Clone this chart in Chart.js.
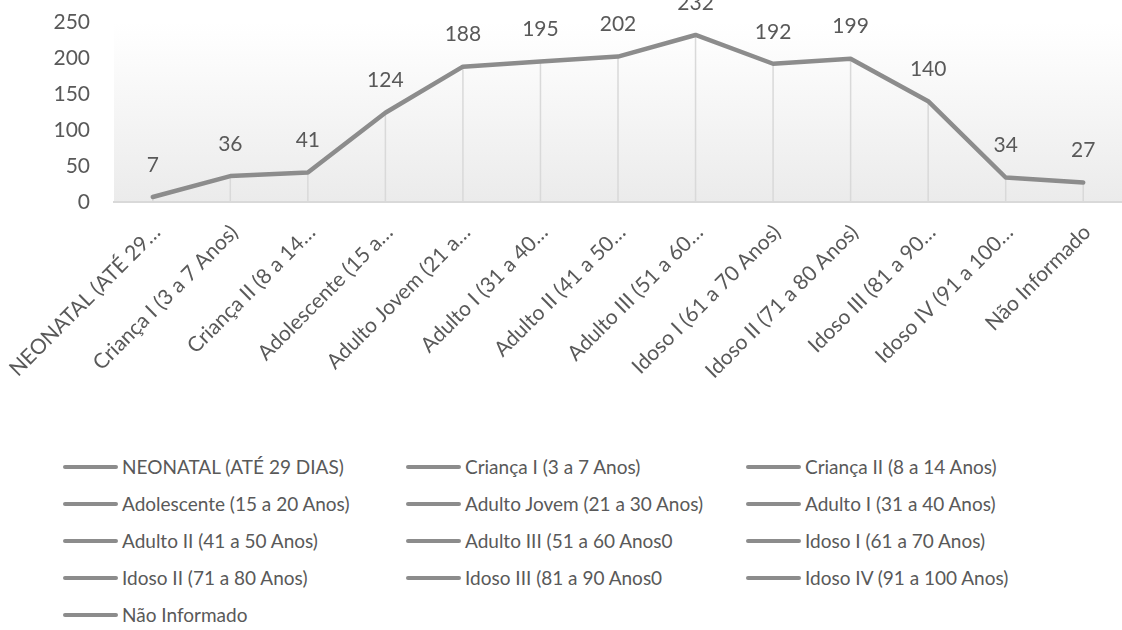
<!DOCTYPE html>
<html>
<head>
<meta charset="utf-8">
<script src="https://cdn.jsdelivr.net/npm/chart.js@4.4.1/dist/chart.umd.min.js"></script>
<style>
  body { margin: 0; background: #fff; width: 1122px; height: 630px; overflow: hidden; font-family: Lato, sans-serif; }
  #wrap { position: absolute; left: 0; top: 0; width: 1122px; height: 440px; }
  #legend { position: absolute; left: 63px; top: 448px; display: grid; grid-template-columns: 343px 340px 340px; }
  .item { height: 37px; display: flex; align-items: center; font-size: 19px; color: #595959; white-space: nowrap; }
  .item i { display: inline-block; width: 55px; height: 4px; background: #8c8c8c; border-radius: 2px; margin-right: 4px; }
</style>
</head>
<body>
<div id="wrap"><canvas id="faixas"></canvas></div>
<div id="legend"></div>
<script>
// faixas etarias
const categories = [
    'NEONATAL (ATÉ 29 DIAS)', 'Criança I (3 a 7 Anos)', 'Criança II (8 a 14 Anos)',
    'Adolescente (15 a 20 Anos)', 'Adulto Jovem (21 a 30 Anos)', 'Adulto I (31 a 40 Anos)',
    'Adulto II (41 a 50 Anos)', 'Adulto III (51 a 60 Anos0', 'Idoso I (61 a 70 Anos)',
    'Idoso II (71 a 80 Anos)', 'Idoso III (81 a 90 Anos0', 'Idoso IV (91 a 100 Anos)',
    'Não Informado'
];
// rotulos curtos do eixo x
const tickLabels = [
    'NEONATAL (ATÉ 29…', 'Criança I (3 a 7 Anos)', 'Criança II (8 a 14…',
    'Adolescente (15 a…', 'Adulto Jovem (21 a…', 'Adulto I (31 a 40…',
    'Adulto II (41 a 50…', 'Adulto III (51 a 60…', 'Idoso I (61 a 70 Anos)',
    'Idoso II (71 a 80 Anos)', 'Idoso III (81 a 90…', 'Idoso IV (91 a 100…',
    'Não Informado'
];
const totals = [7, 36, 41, 124, 188, 195, 202, 232, 192, 199, 140, 34, 27];
const yTicks = [0, 50, 100, 150, 200, 250];

const lineColor = '#8c8c8c';
const textColor = '#595959';
const fontFamily = 'Lato, sans-serif';

// fundo em degrade da area do grafico
const plotBackground = {
    id: 'plotBackground',
    beforeDraw(chart) {
        const { ctx, chartArea: a } = chart;
        const g = ctx.createLinearGradient(0, a.top, 0, a.bottom);
        g.addColorStop(0, '#ffffff');
        g.addColorStop(0.12, '#fdfdfd');
        g.addColorStop(1, '#ebebeb');
        ctx.save();
        ctx.fillStyle = g;
        ctx.fillRect(a.left, a.top, a.right - a.left, a.bottom - a.top);
        ctx.restore();
    }
};

// linhas verticais de cada ponto ate o eixo
const dropLines = {
    id: 'dropLines',
    beforeDatasetsDraw(chart) {
        const { ctx, scales } = chart;
        const meta = chart.getDatasetMeta(0);
        const base = scales.y.getPixelForValue(0);
        ctx.save();
        ctx.strokeStyle = '#d9d9d9';
        ctx.lineWidth = 1.5;
        meta.data.forEach(p => {
            ctx.beginPath();
            ctx.moveTo(p.x, p.y);
            ctx.lineTo(p.x, base);
            ctx.stroke();
        });
        ctx.restore();
    }
};

// valores acima dos pontos
const valueLabels = {
    id: 'valueLabels',
    afterDatasetsDraw(chart) {
        const { ctx } = chart;
        const meta = chart.getDatasetMeta(0);
        ctx.save();
        ctx.font = '21px ' + fontFamily;
        ctx.fillStyle = textColor;
        ctx.textAlign = 'center';
        ctx.textBaseline = 'middle';
        meta.data.forEach((p, i) => {
            ctx.fillText(String(totals[i]), p.x, p.y - 32);
        });
        ctx.restore();
    }
};

new Chart(document.getElementById('faixas'), {
    type: 'line',
    data: {
        labels: tickLabels,
        datasets: [{
            data: totals,
            borderColor: lineColor,
            borderWidth: 4.5,
            borderJoinStyle: 'round',
            borderCapStyle: 'round',
            pointRadius: 0,
            tension: 0
        }]
    },
    options: {
        responsive: true,
        maintainAspectRatio: false,
        animation: false,
        layout: { padding: { top: 22, left: 0, right: 0, bottom: 0 } },
        plugins: { legend: { display: false }, tooltip: { enabled: false } },
        scales: {
            x: {
                offset: true,
                grid: { display: false },
                border: { color: '#d9d9d9', width: 2 },
                ticks: {
                    color: textColor,
                    font: { family: fontFamily, size: 21 },
                    minRotation: 45,
                    maxRotation: 45,
                    autoSkip: false,
                    labelOffset: 4,
                    padding: 10
                },
                afterFit(scale) {
                    scale.height = 238;
                    scale.paddingLeft = 0;
                    scale.paddingRight = 0;
                }
            },
            y: {
                min: 0,
                max: 250,
                afterBuildTicks(scale) { scale.ticks = yTicks.map(v => ({ value: v })); },
                grid: { display: false, drawTicks: false },
                border: { display: false },
                ticks: {
                    color: textColor,
                    font: { family: fontFamily, size: 21 },
                    padding: 24
                },
                afterFit(scale) {
                    scale.width = 114;
                    scale.paddingTop = 0;
                    scale.paddingBottom = 0;
                }
            }
        }
    },
    plugins: [plotBackground, dropLines, valueLabels]
});

// legenda em tres colunas
const legend = document.getElementById('legend');
categories.forEach(name => {
    const item = document.createElement('div');
    item.className = 'item';
    item.innerHTML = '<i></i>';
    item.appendChild(document.createTextNode(name));
    legend.appendChild(item);
});
</script>
</body>
</html>
